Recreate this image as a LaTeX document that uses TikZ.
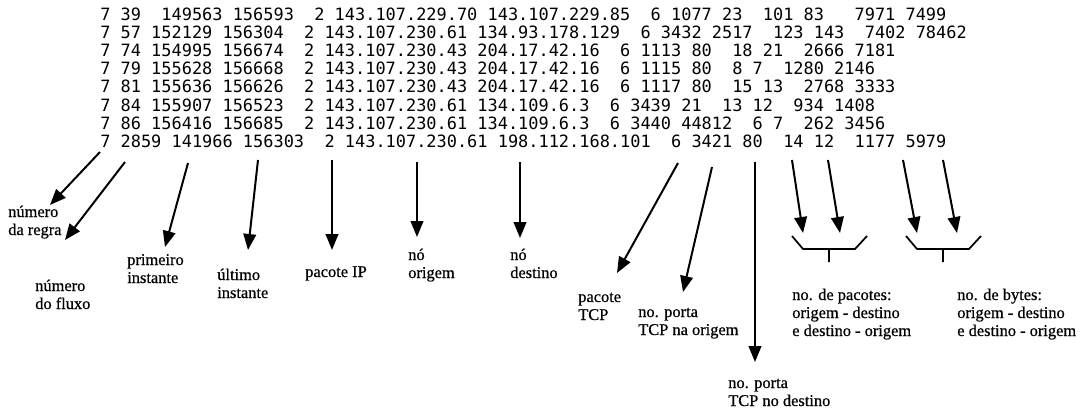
\documentclass[tikz,border=0pt]{standalone}
\usepackage{fontspec}
\setmainfont[FakeBold=0.6]{Liberation Serif}
\setmonofont{DejaVu Sans Mono}
\usetikzlibrary{arrows.meta}

\begin{document}
\begin{tikzpicture}[x=0.75pt,y=-0.75pt,
  data/.style={anchor=base west, inner sep=0pt,
    font=\ttfamily\fontsize{12.7}{15}\selectfont},
  % base west sits on the last line of a label, so a label of n lines
  % is placed 18*(n-1) below its first baseline
  lbl/.style={anchor=base west, inner sep=0pt, align=left,
    font=\fontsize{12.3}{13.5}\selectfont},
  ptr/.style={line width=1.5pt, -{Triangle[length=12pt,width=9.5pt]}},
  brk/.style={line width=1.3pt}]
\useasboundingbox (0,0) rectangle (1088,414);

% flow records, one per line
\node[data] (r1) at (100,20)    {7 39~ 149563 156593~ 2 143.107.229.70 143.107.229.85~ 6 1077 23~ 101 83~~ 7971 7499};
\node[data] (r2) at (100,38.2)  {7 57 152129 156304~ 2 143.107.230.61 134.93.178.129~ 6 3432 2517~ 123 143~ 7402 78462};
\node[data] (r3) at (100,56.4)  {7 74 154995 156674~ 2 143.107.230.43 204.17.42.16~ 6 1113 80~ 18 21~ 2666 7181};
\node[data] (r4) at (100,74.6)  {7 79 155628 156668~ 2 143.107.230.43 204.17.42.16~ 6 1115 80~ 8 7~ 1280 2146};
\node[data] (r5) at (100,92.8)  {7 81 155636 156626~ 2 143.107.230.43 204.17.42.16~ 6 1117 80~ 15 13~ 2768 3333};
\node[data] (r6) at (100,111)   {7 84 155907 156523~ 2 143.107.230.61 134.109.6.3~ 6 3439 21~ 13 12~ 934 1408};
\node[data] (r7) at (100,129.2) {7 86 156416 156685~ 2 143.107.230.61 134.109.6.3~ 6 3440 44812~ 6 7~ 262 3456};
\node[data] (r8) at (100,147.4) {7 2859 141966 156303~ 2 143.107.230.61 198.112.168.101~ 6 3421 80~ 14 12~ 1177 5979};

% field descriptions
\node[lbl] (regra)   at (8,235)   {número\\da regra};
\node[lbl] (fluxo)   at (35,309)  {número\\do fluxo};
\node[lbl] (prim)    at (127,283) {primeiro\\instante};
\node[lbl] (ult)     at (217,298) {último\\instante};
\node[lbl] (ip)      at (305,277) {pacote IP};
\node[lbl] (norig)   at (408,278) {nó\\origem};
\node[lbl] (ndest)   at (510,278) {nó\\destino};
\node[lbl] (tcp)     at (578,320) {pacote\\TCP};
\node[lbl] (porig)   at (638,335) {no. porta\\TCP na origem};
\node[lbl] (pdest)   at (728,406) {no. porta\\TCP no destino};
\node[lbl] (npac)    at (792,336) {no. de pacotes:\\origem - destino\\e destino - origem};
\node[lbl] (nbyt)    at (957,336) {no. de bytes:\\origem - destino\\e destino - origem};

% arrow ends
\coordinate (s1)  at (100,152); \coordinate (t1)  at (50,205);
\coordinate (s2)  at (125,162); \coordinate (t2)  at (65,240);
\coordinate (s3)  at (188,163); \coordinate (t3)  at (165,247);
\coordinate (s4)  at (258,160); \coordinate (t4)  at (248,250);
\coordinate (s5)  at (332,160); \coordinate (t5)  at (332,250);
\coordinate (s6)  at (417,162); \coordinate (t6)  at (417,237);
\coordinate (s7)  at (520,162); \coordinate (t7)  at (520,238);
\coordinate (s8)  at (678,163); \coordinate (t8)  at (617,273);
\coordinate (s9)  at (712,167); \coordinate (t9)  at (683,292);
\coordinate (s10) at (755,162); \coordinate (t10) at (755,362);
\coordinate (s11) at (792,160); \coordinate (t11) at (803,233);
\coordinate (s12) at (828,160); \coordinate (t12) at (840,233);
\coordinate (s13) at (903,160); \coordinate (t13) at (917,233);
\coordinate (s14) at (943,160); \coordinate (t14) at (957,233);

\foreach \i in {1,...,14} \draw[ptr] (s\i) -- (t\i);

% brackets joining the two counts of each pair
\coordinate (b1) at (829,249);
\coordinate (b2) at (943,249);
\foreach \b in {b1,b2}
  \draw[brk] ([shift={(-37,-13)}]\b) -- ([shift={(-26,0)}]\b) -- ([shift={(26,0)}]\b)
             -- ([shift={(38,-13)}]\b)
             (\b) -- ([shift={(0,13)}]\b);
\end{tikzpicture}
\end{document}
